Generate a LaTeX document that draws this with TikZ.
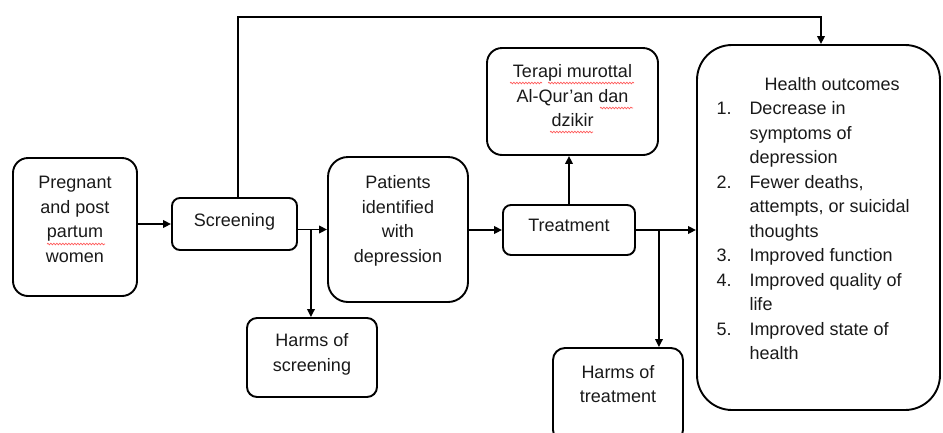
\documentclass[tikz,border=0pt]{standalone}
\usepackage{fontspec}
\setmainfont{Liberation Sans}
\usetikzlibrary{arrows.meta,decorations.pathmorphing}
\newcommand\raisetxt[2]{\raisebox{#1}[\height][\depth]{#2}}
\newcommand\ctab[1]{\begin{tabular}{@{}c@{}}#1\end{tabular}}
\tikzset{
  box/.style={draw, line width=1.9pt, rounded corners=#1, inner sep=0pt,
    font=\fontsize{18}{24.5}\selectfont, text=black!90},
  conn/.style={line width=1.9pt},
  arr/.style={conn, -{Triangle[length=8pt,width=7.5pt]}},
  squig/.style={draw=red!65, line width=0.7pt, decorate,
    decoration={snake, amplitude=0.8pt, segment length=3pt}}
}
\begin{document}
\begin{tikzpicture}[x=1pt,y=-1pt]
\useasboundingbox (0,0) rectangle (943,432);
\clip (0,0) rectangle (943,432);
\node[box=15pt, minimum width=124pt, minimum height=138pt] (preg) at (75,227)
  {\raisetxt{6.5pt}{\ctab{Pregnant\\ and post\\ partum\\ women}}};
\node[box=8pt, minimum width=125pt, minimum height=52pt] (scr) at (234.5,224)
  {\raisetxt{2pt}{\ctab{Screening}}};
\node[box=20pt, minimum width=140pt, minimum height=145pt] (pat) at (398,229.5)
  {\raisetxt{9pt}{\ctab{Patients\\ identified\\ with\\ depression}}};
\node[box=10pt, minimum width=130pt, minimum height=79pt] (hs) at (312,357.5)
  {\raisetxt{3.5pt}{\ctab{Harms of\\ screening}}};
\node[box=8pt, minimum width=132pt, minimum height=50pt] (trt) at (569,230)
  {\raisetxt{3pt}{\ctab{Treatment}}};
\node[box=15pt, minimum width=171pt, minimum height=107pt] (ter) at (572.5,101.5)
  {\raisetxt{4pt}{\ctab{Terapi murottal\\ Al-Qur'an dan\\ dzikir}}};
\node[box=12pt, minimum width=130pt, minimum height=94pt] (ht) at (618,395)
  {\raisetxt{9.5pt}{\ctab{Harms of\\ treatment}}};
\node[box=35pt, minimum width=243pt, minimum height=365pt] (hlth) at (818.5,227.5)
  {\raisetxt{7.5pt}{\begin{tabular}{@{}p{33pt}@{}p{171pt}@{}}
    \multicolumn{2}{@{\hspace{48pt}}l@{}}{Health outcomes}\\
    1. & Decrease in\\
       & symptoms of\\
       & depression\\
    2. & Fewer deaths,\\
       & attempts, or suicidal\\
       & thoughts\\
    3. & Improved function\\
    4. & Improved quality of\\
       & life\\
    5. & Improved state of\\
       & health
  \end{tabular}}};
% spell-check underlines
\draw[squig] (47,244) -- (105,244);
\draw[squig] (510,83) -- (542,83);
\draw[squig] (548,83) -- (634,83);
\draw[squig] (600,108) -- (633,108);
\draw[squig] (550,132) -- (593,132);
% connectors
\draw[arr] (preg.east |- scr.west) -- (scr.west);
\draw[arr] (scr.east |- pat.west) -- (pat.west);
\coordinate (b1) at ([xshift=13pt]scr.east |- pat.west);
\draw[arr] (b1) -- (b1 |- hs.north);
\coordinate (s1) at ([xshift=3.5pt]scr.north);
\coordinate (topy) at (0,17);
\coordinate (h1) at ([xshift=2.5pt]hlth.north);
\draw[arr] (s1) -- (s1 |- topy) -- (h1 |- topy) -- (h1);
\draw[arr] (pat.east |- trt.west) -- (trt.west);
\draw[arr] (trt.north) -- (trt.north |- ter.south);
\draw[arr] (trt.east) -- (trt.east -| hlth.west);
\coordinate (b2) at ([xshift=23pt]trt.east);
\draw[arr] (b2) -- (b2 |- ht.north);
\end{tikzpicture}
\end{document}
